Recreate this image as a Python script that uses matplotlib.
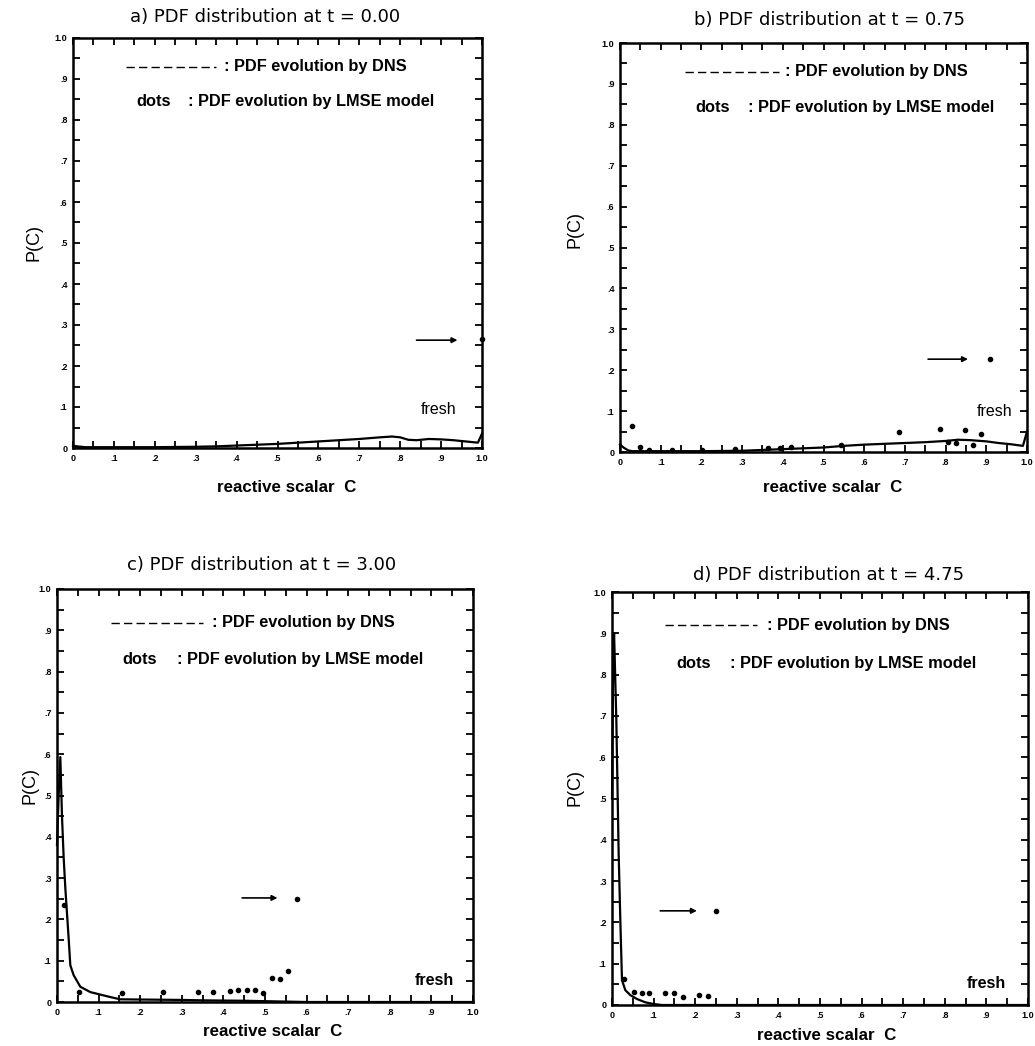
import matplotlib
matplotlib.use("Agg")
import matplotlib.pyplot as plt
from matplotlib.ticker import MultipleLocator, FixedLocator, FixedFormatter

W, H = 1035, 1046
plt.rcParams['font.family'] = ['Liberation Sans', 'DejaVu Sans']

# ---------------- data ----------------
titles = ["a) PDF distribution at t = 0.00", "b) PDF distribution at t = 0.75",
          "c) PDF distribution at t = 3.00", "d) PDF distribution at t = 4.75"]

# DNS curves
dns_a_c = [0, 0.01, 0.03, 0.1, 0.2, 0.3, 0.35, 0.4, 0.45, 0.5, 0.55, 0.6, 0.65, 0.7, 0.75,
           0.78, 0.8, 0.82, 0.84, 0.87, 0.9, 0.93, 0.96, 0.99, 1.0]
dns_a_p = [0.006, 0.004, 0.002, 0.002, 0.002, 0.003, 0.004, 0.006, 0.008, 0.010, 0.013, 0.016,
           0.019, 0.022, 0.026, 0.028, 0.026, 0.020, 0.019, 0.022, 0.021, 0.019, 0.016, 0.013, 0.035]

dns_b_c = [0, 0.01, 0.02, 0.03, 0.05, 0.1, 0.2, 0.3, 0.35, 0.4, 0.45, 0.5, 0.55, 0.6, 0.65,
           0.7, 0.75, 0.8, 0.83, 0.86, 0.9, 0.93, 0.96, 0.99, 1.0]
dns_b_p = [0.018, 0.010, 0.004, 0.002, 0.002, 0.002, 0.002, 0.003, 0.005, 0.007, 0.009, 0.011,
           0.015, 0.018, 0.020, 0.022, 0.024, 0.027, 0.030, 0.029, 0.026, 0.022, 0.019, 0.015, 0.050]

dns_c_c = [0, 0.004, 0.008, 0.012, 0.016, 0.02, 0.028, 0.032, 0.04, 0.056, 0.08, 0.104, 0.128,
           0.152, 0.2, 0.3, 0.35, 0.45, 0.55, 0.6, 1.0]
dns_c_p = [0.38, 0.50, 0.593, 0.45, 0.35, 0.276, 0.154, 0.089, 0.065, 0.037, 0.024, 0.018, 0.012,
           0.0065, 0.006, 0.005, 0.004, 0.003, 0.001, 0.0, 0.0]

dns_d_c = [0, 0.003, 0.005, 0.0104, 0.016, 0.02, 0.024, 0.032, 0.044, 0.06, 0.08, 0.1, 0.12, 1.0]
dns_d_p = [0.5, 0.85, 0.90, 0.69, 0.367, 0.206, 0.06, 0.036, 0.024, 0.0145, 0.0065, 0.0024, 0.0, 0.0]

# LMSE model dots
lmse_a_c = [1.0]
lmse_a_p = [0.265]

lmse_b_c = [0.03, 0.05, 0.071, 0.128, 0.201, 0.283, 0.364, 0.393, 0.421, 0.544,
            0.686, 0.786, 0.807, 0.825, 0.848, 0.867, 0.886, 0.909]
lmse_b_p = [0.063, 0.012, 0.006, 0.005, 0.006, 0.007, 0.009, 0.010, 0.012, 0.018,
            0.050, 0.056, 0.024, 0.022, 0.053, 0.016, 0.044, 0.227]

lmse_c_c = [0.016, 0.054, 0.156, 0.256, 0.338, 0.376, 0.416, 0.436, 0.456, 0.476, 0.496,
            0.518, 0.536, 0.556, 0.578]
lmse_c_p = [0.235, 0.024, 0.023, 0.024, 0.024, 0.024, 0.027, 0.028, 0.030, 0.028, 0.023,
            0.059, 0.055, 0.075, 0.250]

lmse_d_c = [0.03, 0.052, 0.072, 0.088, 0.128, 0.148, 0.17, 0.208, 0.23, 0.25]
lmse_d_p = [0.062, 0.031, 0.028, 0.028, 0.030, 0.028, 0.020, 0.024, 0.022, 0.228]

tick_vals = [0, .1, .2, .3, .4, .5, .6, .7, .8, .9, 1.0]
tick_labels = ["0", ".1", ".2", ".3", ".4", ".5", ".6", ".7", ".8", ".9", "1.0"]

# ---------------- layout (pixel boxes) ----------------
panels = [
    dict(box=(73, 482, 38, 448), dns=(dns_a_c, dns_a_p), dots=(lmse_a_c, lmse_a_p),
         arrow=((0.84, 0.263), (0.94, 0.263)), fresh=(0.85, 0.095), fw="normal",
         leg=(0.13, 0.35, 0.37, 0.93, 0.155, 0.28, 0.845),
         title=(265, 17), ylab=(34, 243), xlab=(287, 487)),
    dict(box=(620, 1027, 43, 452), dns=(dns_b_c, dns_b_p), dots=(lmse_b_c, lmse_b_p),
         arrow=((0.757, 0.227), (0.855, 0.227)), fresh=(0.877, 0.098), fw="normal",
         leg=(0.16, 0.39, 0.405, 0.93, 0.185, 0.315, 0.843),
         title=(829, 20), ylab=(575, 230), xlab=(833, 487)),
    dict(box=(57, 473, 589, 1002), dns=(dns_c_c, dns_c_p), dots=(lmse_c_c, lmse_c_p),
         arrow=((0.445, 0.252), (0.53, 0.252)), fresh=(0.86, 0.053), fw="bold",
         leg=(0.13, 0.35, 0.373, 0.918, 0.157, 0.288, 0.83),
         title=(262, 565), ylab=(30, 785), xlab=(273, 1032)),
    dict(box=(612, 1028, 592, 1005), dns=(dns_d_c, dns_d_p), dots=(lmse_d_c, lmse_d_p),
         arrow=((0.116, 0.228), (0.204, 0.228)), fresh=(0.853, 0.053), fw="bold",
         leg=(0.127, 0.349, 0.372, 0.92, 0.154, 0.284, 0.828),
         title=(829, 575), ylab=(575, 787), xlab=(827, 1035)),
]

fig = plt.figure(figsize=(W / 100, H / 100), dpi=100)
fig.patch.set_facecolor("white")

for p, title in zip(panels, titles):
    l, r, t, b = p["box"]
    ax = fig.add_axes([l / W, (H - b) / H, (r - l) / W, (b - t) / H])
    ax.set_xlim(0, 1)
    ax.set_ylim(0, 1)
    for s in ax.spines.values():
        s.set_linewidth(1.8)
        s.set_color("black")
    ax.xaxis.set_major_locator(FixedLocator(tick_vals))
    ax.yaxis.set_major_locator(FixedLocator(tick_vals))
    ax.xaxis.set_major_formatter(FixedFormatter(tick_labels))
    ax.yaxis.set_major_formatter(FixedFormatter(tick_labels))
    ax.xaxis.set_minor_locator(MultipleLocator(0.05))
    ax.yaxis.set_minor_locator(MultipleLocator(0.05))
    ax.tick_params(which="both", direction="in", top=True, right=True,
                   width=1.3, length=5, color="black")
    ax.tick_params(which="major", labelsize=6.5, pad=4)
    for lab in ax.get_xticklabels() + ax.get_yticklabels():
        lab.set_fontweight("bold")

    # DNS curve
    ax.plot(p["dns"][0], p["dns"][1], color="black", lw=1.6, clip_on=False, zorder=3)
    # LMSE dots
    ax.plot(p["dots"][0], p["dots"][1], "o", color="black", ms=3.0, lw=0,
            clip_on=False, zorder=4)
    # arrow
    (x0, y0), (x1, y1) = p["arrow"]
    ax.annotate("", xy=(x1, y1), xytext=(x0, y0),
                arrowprops=dict(arrowstyle="-|>", color="black", lw=1.2,
                                mutation_scale=8, shrinkA=0, shrinkB=0))
    # fresh label
    ax.text(p["fresh"][0], p["fresh"][1], "fresh", fontsize=11.5, fontweight=p["fw"],
            ha="left", va="center")
    # in-plot legend
    dl0, dl1, tx, ty, dx, dcx, dy = p["leg"]
    ax.plot([dl0, dl1], [ty, ty], color="black", lw=1.0, ls=(0, (6, 3)))
    ax.text(tx, ty, ": PDF evolution by DNS", fontsize=11.8, fontweight="bold",
            ha="left", va="center")
    ax.text(dx, dy, "dots", fontsize=11.8, fontweight="bold", ha="left", va="center")
    ax.text(dcx, dy, ": PDF evolution by LMSE model", fontsize=11.8, fontweight="bold",
            ha="left", va="center")

    # titles & axis labels
    fig.text(p["title"][0] / W, 1 - p["title"][1] / H, title, fontsize=13,
             family="DejaVu Sans", ha="center", va="center")
    fig.text(p["ylab"][0] / W, 1 - p["ylab"][1] / H, "P(C)", fontsize=13,
             rotation=90, ha="center", va="center")
    fig.text(p["xlab"][0] / W, 1 - p["xlab"][1] / H, "reactive scalar  C", fontsize=12.2,
             fontweight="bold", ha="center", va="center")

fig.savefig("out.png", dpi=100, facecolor="white")
